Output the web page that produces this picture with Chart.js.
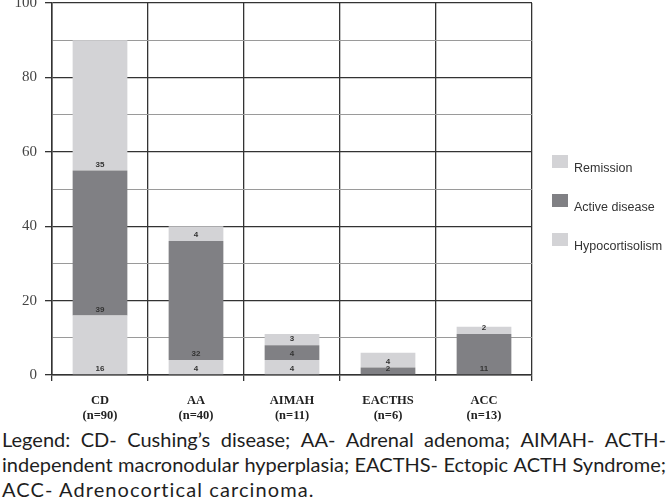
<!DOCTYPE html>
<html><head><meta charset="utf-8">
<script src="https://cdn.jsdelivr.net/npm/chart.js@4/dist/chart.umd.min.js"></script>
<style>
html,body{margin:0;padding:0;background:#fff;width:668px;height:501px;overflow:hidden}
#wrap{position:absolute;left:0;top:0;width:668px;height:425px}
#cap{position:absolute;left:2px;top:427px;width:664px;font-family:Lato;font-size:20px;color:#1e1e1e;line-height:25px}
.j{display:flex;justify-content:space-between;white-space:nowrap;gap:4px}
</style></head><body>
<div id="wrap"><canvas id="c" width="668" height="425"></canvas></div>
<div id="cap">
<div class="j">Legend: CD- Cushing’s disease; AA- Adrenal adenoma; AIMAH- ACTH-</div>
<div class="j">independent macronodular hyperplasia; EACTHS- Ectopic ACTH Syndrome;</div>
<div style="white-space:nowrap;letter-spacing:1.1px">ACC- Adrenocortical carcinoma.</div>
</div>
<script>
const categories = ["CD", "AA", "AIMAH", "EACTHS", "ACC"];
const counts = ["(n=90)", "(n=40)", "(n=11)", "(n=6)", "(n=13)"];
const hypocortisolism = [16, 4, 4, 0, 0];
const activeDisease = [39, 32, 4, 2, 11];
const remission = [35, 4, 3, 4, 2];
const yTicks = [0, 20, 40, 60, 80, 100];

const LIGHT = '#d3d3d6', DARK = '#808084';

// justify caption lines word by word
document.querySelectorAll('.j').forEach(el => {
  const words = el.textContent.trim().split(/\s+/);
  el.textContent = '';
  words.forEach(w => { const s = document.createElement('span'); s.textContent = w; el.appendChild(s); });
});

const segLabels = {
  id: 'segLabels',
  afterDatasetsDraw(chart) {
    const ctx = chart.ctx;
    ctx.save();
    ctx.font = 'bold 8px "Liberation Sans"';
    ctx.fillStyle = '#333';
    ctx.textAlign = 'center';
    ctx.textBaseline = 'middle';
    chart.data.datasets.forEach((ds, i) => {
      const meta = chart.getDatasetMeta(i);
      meta.data.forEach((el, j) => {
        const v = ds.data[j];
        if (!v) return;
        ctx.fillText(String(v), el.x, el.base - 6);
      });
    });
    ctx.restore();
  }
};

const sideLegend = {
  id: 'sideLegend',
  afterDraw(chart) {
    const ctx = chart.ctx;
    ctx.save();
    ctx.font = '12.5px "Liberation Sans"';
    ctx.textBaseline = 'middle';
    const ds = chart.data.datasets.slice().reverse();
    ds.forEach((d, i) => {
      const y = 155 + i * 39;
      ctx.fillStyle = d.backgroundColor;
      ctx.fillRect(552, y, 16, 13);
      ctx.fillStyle = '#333';
      ctx.fillText(d.label, 574, y + 14);
    });
    ctx.restore();
  }
};

new Chart(document.getElementById('c'), {
  type: 'bar',
  data: {
    labels: categories.map((c, i) => [c, counts[i]]),
    datasets: [
      { label: 'Hypocortisolism', data: hypocortisolism, backgroundColor: LIGHT },
      { label: 'Active disease', data: activeDisease, backgroundColor: DARK },
      { label: 'Remission', data: remission, backgroundColor: LIGHT }
    ]
  },
  options: {
    responsive: false,
    animation: false,
    events: [],
    layout: { padding: { top: 3, right: 136, left: 0, bottom: 0 } },
    datasets: { bar: { categoryPercentage: 1, barPercentage: 0.57 } },
    plugins: { legend: { display: false }, tooltip: { enabled: false } },
    scales: {
      x: {
        stacked: true,
        offset: true,
        grid: { offset: true, color: '#333', lineWidth: 1.3, tickLength: 6, drawOnChartArea: true },
        border: { color: '#333', width: 1.5 },
        ticks: { color: '#222', font: { family: '"Liberation Serif"', size: 12.5, weight: 'bold' }, padding: 12, maxRotation: 0 },
        afterFit(s) { s.height = 50; s.paddingLeft = 0; s.paddingRight = 0; }
      },
      y: {
        stacked: true,
        min: 0, max: 100,
        ticks: {
          stepSize: 10,
          color: '#444',
          padding: 8,
          font: { family: '"Liberation Serif"', size: 15 },
          callback: v => yTicks.includes(v) ? v : ''
        },
        grid: {
          color: c => (c.tick && c.tick.value % 20 === 0) ? '#333' : '#9a9a9a',
          lineWidth: c => (c.tick && c.tick.value % 20 === 0) ? 1.3 : 1,
          tickColor: c => (c.tick && c.tick.value % 20 === 0) ? '#333' : 'rgba(0,0,0,0)',
          tickLength: 7
        },
        border: { color: '#333', width: 1.5 },
        afterFit(s) { s.width = 52; s.paddingTop = 0; s.paddingBottom = 0; }
      }
    }
  },
  plugins: [segLabels, sideLegend]
});
</script>
</body></html>
